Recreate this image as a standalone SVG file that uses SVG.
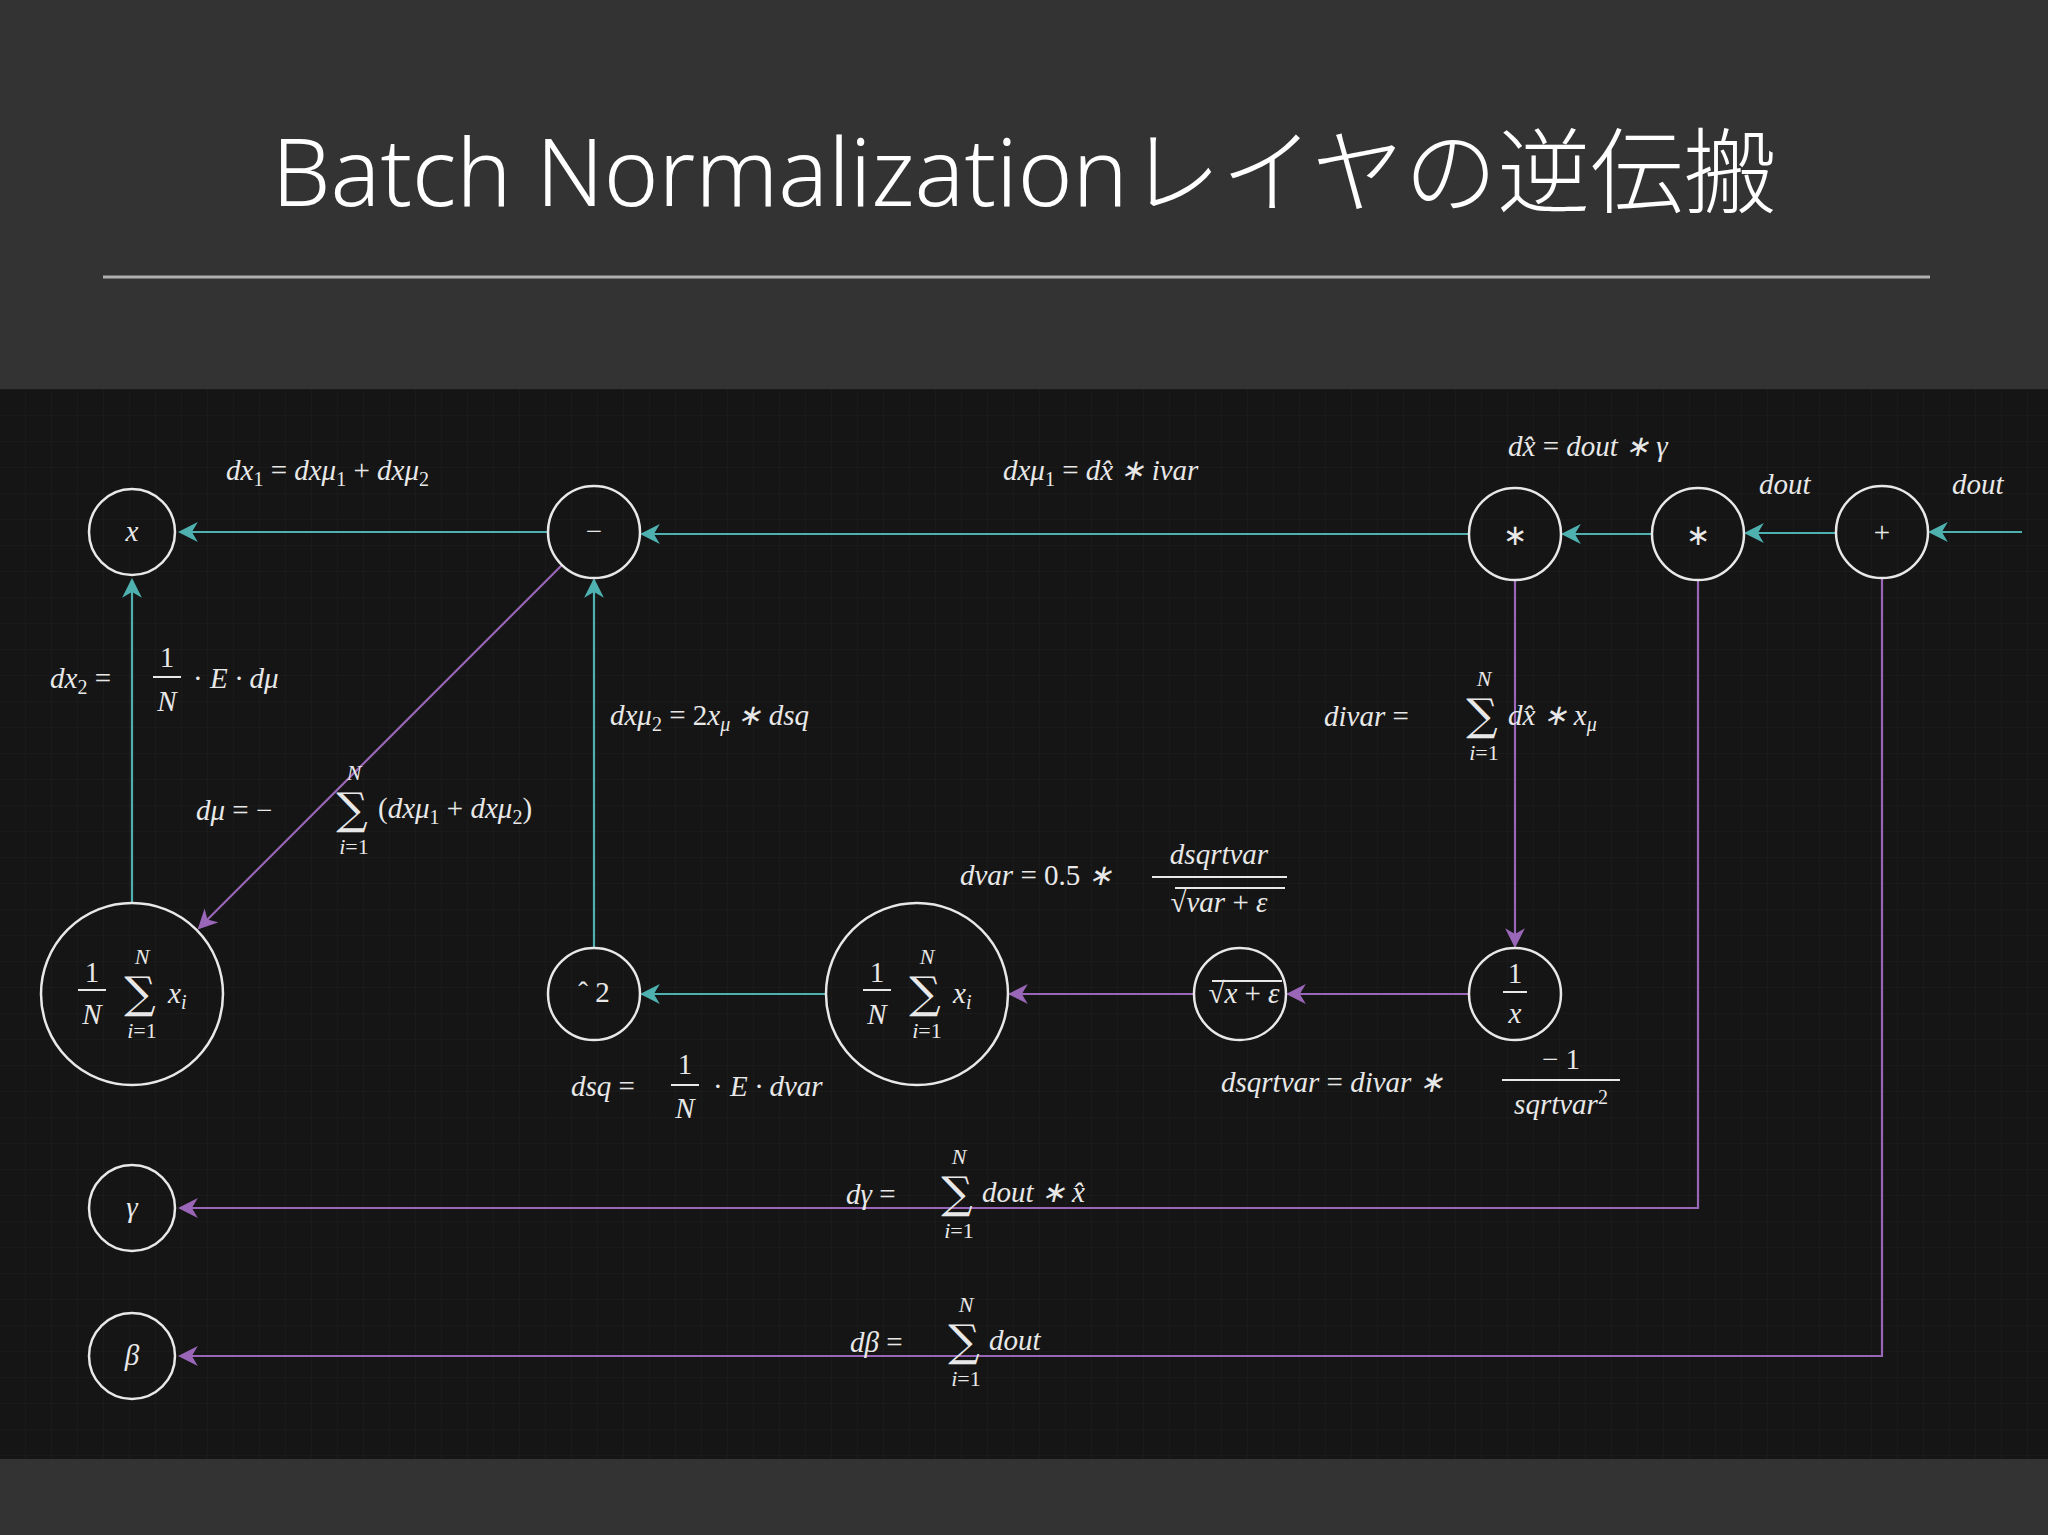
<svg xmlns="http://www.w3.org/2000/svg" width="2048" height="1535" viewBox="0 0 2048 1535">
<defs>
<pattern id="grid" width="26" height="26" patternUnits="userSpaceOnUse"><path d="M26 0V26H0" fill="none" stroke="#1e1e1e" stroke-width="1"/></pattern>
<marker id="at" viewBox="0 0 10 10" refX="9" refY="5" markerWidth="9" markerHeight="9" orient="auto"><path d="M0 0L10 5L0 10L3 5z" fill="#4fb0b0"/></marker>
<marker id="ap" viewBox="0 0 10 10" refX="9" refY="5" markerWidth="9" markerHeight="9" orient="auto"><path d="M0 0L10 5L0 10L3 5z" fill="#9a66b8"/></marker>
</defs>
<style>
.n{fill:none;stroke:#e8e8e8;stroke-width:2.5}
.t{stroke:#4fb0b0;stroke-width:2.2;fill:none;marker-end:url(#at)}
.p{stroke:#9a66b8;stroke-width:2.2;fill:none;marker-end:url(#ap)}
.m{font-family:"Liberation Serif",serif;font-style:italic;font-size:29px;fill:#e8e8e8}
.r{font-style:normal}
.s{font-family:"DejaVu Serif",serif;font-size:44px;fill:#e8e8e8}
.sm{font-family:"Liberation Serif",serif;font-style:italic;font-size:22px;fill:#e8e8e8}
.fl{stroke:#e8e8e8;stroke-width:2}
</style>
<rect width="2048" height="1535" fill="#333333"/>
<rect y="389" width="2048" height="1070" fill="#151515"/>
<rect y="389" width="2048" height="1070" fill="url(#grid)"/>
<text x="1024" y="206" text-anchor="middle" font-family="'Noto Sans','Noto Sans CJK JP',sans-serif" font-weight="300" font-size="93" fill="#ffffff">Batch Normalizationレイヤの逆伝搬</text>
<line x1="103" y1="277" x2="1930" y2="277" stroke="#b0b0b0" stroke-width="3"/>

<g id="connectors">
<path class="t" d="M2022 532H1930"/>
<path class="t" d="M1836 533H1746"/>
<path class="t" d="M1652 534H1563"/>
<path class="t" d="M1469 534H642"/>
<path class="t" d="M548 532H180"/>
<path class="t" d="M132 903V580"/>
<path class="t" d="M594 948V580"/>
<path class="t" d="M826 994H642"/>
<path class="p" d="M562 565L199 928"/>
<path class="p" d="M1515 580V946"/>
<path class="p" d="M1469 994H1288"/>
<path class="p" d="M1194 994H1010"/>
<path class="p" d="M1698 580V1208H180"/>
<path class="p" d="M1882 578V1356H180"/>
</g>

<g id="n-x"><circle class="n" cx="132" cy="532" r="43"/><text class="m" x="132" y="541" text-anchor="middle">x</text></g>
<g id="n-minus"><circle class="n" cx="594" cy="532" r="46"/><text class="m r" x="594" y="541" text-anchor="middle">−</text></g>
<g id="n-mul1"><circle class="n" cx="1515" cy="534" r="46"/><text class="m r" x="1515" y="545" text-anchor="middle" font-size="22">∗</text></g>
<g id="n-mul2"><circle class="n" cx="1698" cy="534" r="46"/><text class="m r" x="1698" y="545" text-anchor="middle" font-size="22">∗</text></g>
<g id="n-plus"><circle class="n" cx="1882" cy="532" r="46"/><text class="m r" x="1882" y="542" text-anchor="middle">+</text></g>
<g id="n-mean1"><circle class="n" cx="132" cy="994" r="91"/>
<text class="m r" x="92" y="982" text-anchor="middle">1</text><line class="fl" x1="78" y1="990" x2="106" y2="990"/><text class="m" x="92" y="1024" text-anchor="middle">N</text>
<text class="s" x="140" y="1008" text-anchor="middle">∑</text><text class="sm" x="142" y="964" text-anchor="middle">N</text><text class="sm" x="142" y="1038" text-anchor="middle">i<tspan class="r">=1</tspan></text>
<text class="m" x="168" y="1003">x<tspan font-size="20" dy="6">i</tspan></text></g>
<g id="n-sq"><circle class="n" cx="594" cy="994" r="46"/><text class="m r" x="594" y="1002" text-anchor="middle">ˆ 2</text></g>
<g id="n-mean2"><circle class="n" cx="917" cy="994" r="91"/>
<text class="m r" x="877" y="982" text-anchor="middle">1</text><line class="fl" x1="863" y1="990" x2="891" y2="990"/><text class="m" x="877" y="1024" text-anchor="middle">N</text>
<text class="s" x="925" y="1008" text-anchor="middle">∑</text><text class="sm" x="927" y="964" text-anchor="middle">N</text><text class="sm" x="927" y="1038" text-anchor="middle">i<tspan class="r">=1</tspan></text>
<text class="m" x="953" y="1003">x<tspan font-size="20" dy="6">i</tspan></text></g>
<g id="n-sqrt"><circle class="n" cx="1240" cy="994" r="46"/><text class="m" x="1244" y="1003" text-anchor="middle" font-size="25"><tspan class="r">√</tspan>x <tspan class="r">+</tspan> ε</text><line class="fl" x1="1212" y1="981" x2="1282" y2="981"/></g>
<g id="n-inv"><circle class="n" cx="1515" cy="994" r="46"/><text class="m r" x="1515" y="983" text-anchor="middle">1</text><line class="fl" x1="1503" y1="992" x2="1527" y2="992"/><text class="m" x="1515" y="1023" text-anchor="middle">x</text></g>
<g id="n-gamma"><circle class="n" cx="132" cy="1208" r="43"/><text class="m" x="132" y="1217" text-anchor="middle">γ</text></g>
<g id="n-beta"><circle class="n" cx="132" cy="1356" r="43"/><text class="m" x="132" y="1365" text-anchor="middle">β</text></g>

<g id="labels">
<text class="m" x="226" y="480">dx<tspan font-size="20" dy="6" class="r">1</tspan><tspan dy="-6" class="r"> = </tspan>dxμ<tspan font-size="20" dy="6" class="r">1</tspan><tspan dy="-6" class="r"> + </tspan>dxμ<tspan font-size="20" dy="6" class="r">2</tspan></text>
<text class="m" x="1003" y="480">dxμ<tspan font-size="20" dy="6" class="r">1</tspan><tspan dy="-6" class="r"> = </tspan>dx̂ ∗ ivar</text>
<text class="m" x="1508" y="456">dx̂ <tspan class="r">=</tspan> dout ∗ γ</text>
<text class="m" x="1759" y="494">dout</text>
<text class="m" x="1952" y="494">dout</text>
<text class="m" x="50" y="688">dx<tspan font-size="20" dy="6" class="r">2</tspan><tspan dy="-6" class="r"> =</tspan></text>
<text class="m r" x="167" y="667" text-anchor="middle">1</text><line class="fl" x1="153" y1="677" x2="181" y2="677"/><text class="m" x="167" y="711" text-anchor="middle">N</text>
<text class="m" x="193" y="688"><tspan class="r">· </tspan>E · dμ</text>
<text class="m" x="610" y="725">dxμ<tspan font-size="20" dy="6" class="r">2</tspan><tspan dy="-6" class="r"> = 2</tspan>x<tspan font-size="20" dy="6">μ</tspan><tspan dy="-6"> ∗ dsq</tspan></text>
<text class="m" x="196" y="820">dμ <tspan class="r">= −</tspan></text>
<text class="s" x="352" y="824" text-anchor="middle">∑</text><text class="sm" x="354" y="780" text-anchor="middle">N</text><text class="sm" x="354" y="854" text-anchor="middle">i<tspan class="r">=1</tspan></text>
<text class="m" x="378" y="818"><tspan class="r">(</tspan>dxμ<tspan font-size="20" dy="6" class="r">1</tspan><tspan dy="-6" class="r"> + </tspan>dxμ<tspan font-size="20" dy="6" class="r">2</tspan><tspan dy="-6" class="r">)</tspan></text>
<text class="m" x="1324" y="726">divar <tspan class="r">=</tspan></text>
<text class="s" x="1482" y="730" text-anchor="middle">∑</text><text class="sm" x="1484" y="686" text-anchor="middle">N</text><text class="sm" x="1484" y="760" text-anchor="middle">i<tspan class="r">=1</tspan></text>
<text class="m" x="1508" y="725">dx̂ ∗ x<tspan font-size="20" dy="6">μ</tspan></text>
<text class="m" x="960" y="885">dvar <tspan class="r">= 0.5 </tspan>∗</text>
<text class="m" x="1219" y="864" text-anchor="middle">dsqrtvar</text><line class="fl" x1="1152" y1="877" x2="1287" y2="877"/>
<text class="m" x="1219" y="912" text-anchor="middle"><tspan class="r">√</tspan>var <tspan class="r">+</tspan> ε</text><line class="fl" x1="1175" y1="888" x2="1285" y2="888"/>
<text class="m" x="571" y="1096">dsq <tspan class="r">=</tspan></text>
<text class="m r" x="685" y="1074" text-anchor="middle">1</text><line class="fl" x1="671" y1="1085" x2="699" y2="1085"/><text class="m" x="685" y="1118" text-anchor="middle">N</text>
<text class="m" x="713" y="1096"><tspan class="r">· </tspan>E · dvar</text>
<text class="m" x="1221" y="1092">dsqrtvar <tspan class="r">=</tspan> divar ∗</text>
<text class="m r" x="1561" y="1069" text-anchor="middle">− 1</text><line class="fl" x1="1502" y1="1080" x2="1620" y2="1080"/>
<text class="m" x="1561" y="1114" text-anchor="middle">sqrtvar<tspan font-size="20" dy="-10" class="r">2</tspan></text>
<text class="m" x="846" y="1204">dγ <tspan class="r">=</tspan></text>
<text class="s" x="957" y="1208" text-anchor="middle">∑</text><text class="sm" x="959" y="1164" text-anchor="middle">N</text><text class="sm" x="959" y="1238" text-anchor="middle">i<tspan class="r">=1</tspan></text>
<text class="m" x="982" y="1202">dout  ∗ x̂</text>
<text class="m" x="850" y="1352">dβ <tspan class="r">=</tspan></text>
<text class="s" x="964" y="1356" text-anchor="middle">∑</text><text class="sm" x="966" y="1312" text-anchor="middle">N</text><text class="sm" x="966" y="1386" text-anchor="middle">i<tspan class="r">=1</tspan></text>
<text class="m" x="989" y="1350">dout</text>
</g>
</svg>
